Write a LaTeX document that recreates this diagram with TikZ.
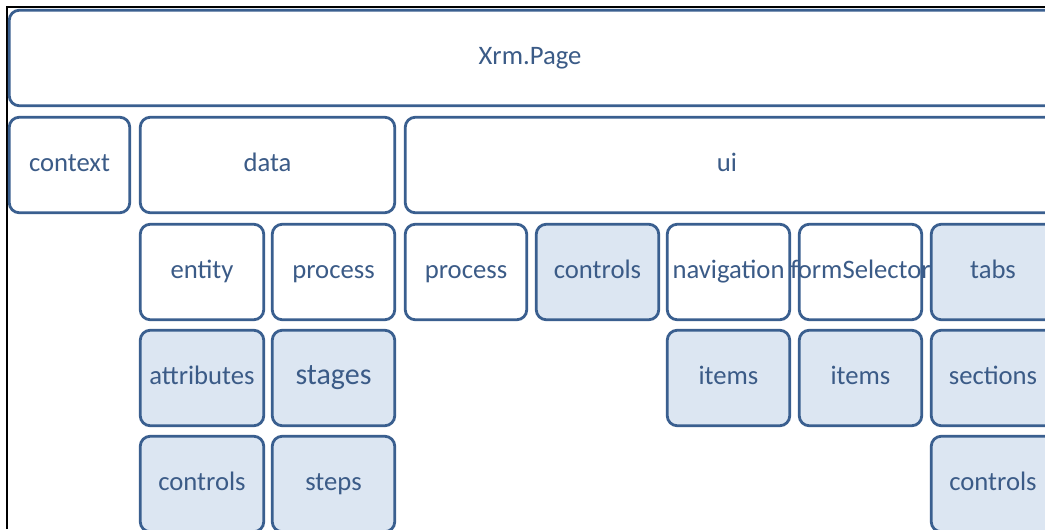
\documentclass[tikz,border=0pt]{standalone}
\usepackage{fontspec}
\setmainfont{Carlito}
\definecolor{bord}{HTML}{3A5F8F}
\definecolor{lfill}{HTML}{DCE6F2}
\definecolor{txt}{HTML}{3B5B87}
\begin{document}
\begin{tikzpicture}[x=0.75pt,y=-0.75pt,
  box/.style={draw=bord, line width=2.1pt, rounded corners=7.5pt, fill=white,
    inner sep=0pt, anchor=center},
  lbox/.style={box, fill=lfill},
  lbl/.style={text=txt, font=\fontsize{20}{24}\selectfont, inner sep=0pt,
    text height=0.95em, text depth=0em, anchor=center},
]
\useasboundingbox (0,0) rectangle (1045,529);
\clip (0,0) rectangle (1045,529);
\fill[white] (0,0) rectangle (1045,529);
% frame lines
\draw[black, line width=1.2pt] (7,529) -- (7,7) -- (1045,7);
% box with label: style, name, x1, y1, x2, y2, text, drawn right edge
\newcommand\bxx[8]{%
  \node[#1, minimum width={(#8-#3-2.5)*0.75pt}, minimum height={(#6-#4-2.5)*0.75pt}]
    (#2) at ({(#3+#8)/2},{(#4+#6)/2}) {};
  \node[lbl] (#2-t) at ({(#3+#5)/2},{(#4+#6)/2}) {#7};}
\bxx{box}{xrm}{8}{9}{1052}{107}{Xrm.Page}{1100}
\bxx{box}{context}{8}{116}{131}{214}{context}{131}
\bxx{box}{data}{139}{116}{396}{214}{data}{396}
\bxx{box}{ui}{404}{116}{1050}{214}{ui}{1100}
% row 3
\bxx{box}{entity}{139}{223}{265}{321}{entity}{265}
\bxx{box}{dproc}{271}{223}{396}{321}{process}{396}
\bxx{box}{uproc}{404}{223}{528}{321}{process}{528}
\bxx{lbox}{uctrl}{535}{223}{660}{321}{controls}{660}
\bxx{box}{nav}{666}{223}{791}{321}{navigation}{791}
\bxx{box}{form}{798}{223}{923}{321}{formSelector}{923}
\bxx{lbox}{tabs}{930}{223}{1056}{321}{tabs}{1100}
% row 4
\bxx{lbox}{attr}{139}{329}{265}{427}{attributes}{265}
\bxx{lbox}{stages}{271}{329}{396}{427}{\fontsize{22.5}{26}\selectfont stages}{396}
\bxx{lbox}{navitems}{666}{329}{791}{427}{items}{791}
\bxx{lbox}{formitems}{798}{329}{923}{427}{items}{923}
\bxx{lbox}{sections}{930}{329}{1056}{427}{sections}{1100}
% row 5
\bxx{lbox}{dctrl}{139}{435}{265}{533}{controls}{265}
\bxx{lbox}{steps}{271}{435}{396}{533}{steps}{396}
\bxx{lbox}{sctrl}{930}{435}{1056}{533}{controls}{1100}
\end{tikzpicture}
\end{document}
